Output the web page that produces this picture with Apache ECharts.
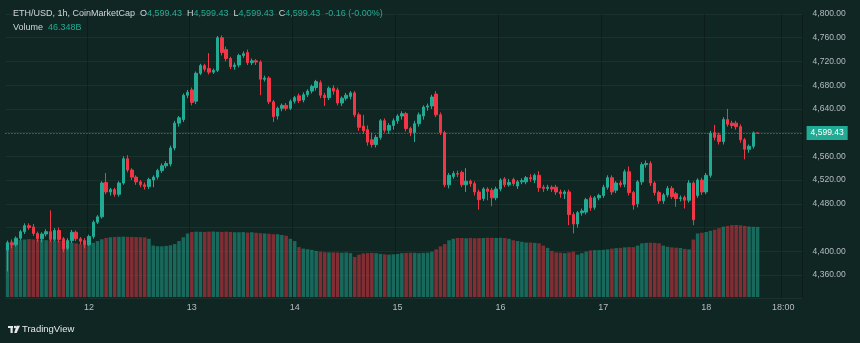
<!DOCTYPE html>
<html>
<head>
<meta charset="utf-8">
<script src="https://cdn.jsdelivr.net/npm/echarts@6/dist/echarts.min.js"></script>
<style>
  html, body { margin: 0; padding: 0; background: #0f2623; }
  #chart { width: 860px; height: 343px; }
</style>
</head>
<body>
<div id="chart"></div>
<script>
// ETH/USD hourly candles (CoinMarketCap), 11th 05:00 → 18th 12:00
const startDay = 11;
const startHour = 5;
const totalSlots = 186; // hourly slots on the time axis, incl. empty space on the right

const opens = [
  4402,4414,4411,4422,4433,4443,4441,4430,4421,4429,4433,4420,4435,4421,4405,4418,4432,4421,4418,4411,
  4425,4449,4458,4516,4500,4504,4496,4515,4556,4537,4525,4517,4512,4509,4520,4525,4536,4544,4547,4574,
  4616,4622,4663,4672,4653,4700,4713,4708,4702,4705,4760,4740,4725,4711,4714,4730,4735,4718,4721,4719,
  4690,4692,4652,4628,4641,4646,4641,4653,4662,4655,4664,4670,4676,4684,4663,4659,4675,4672,4650,4658,
  4661,4667,4630,4611,4605,4588,4580,4592,4620,4604,4612,4620,4628,4632,4607,4600,4615,4628,4643,4645,
  4665,4630,4600,4512,4526,4531,4533,4512,4518,4514,4500,4489,4505,4503,4490,4505,4522,4512,4521,4510,
  4517,4517,4524,4520,4528,4508,4506,4508,4508,4500,4497,4500,4462,4446,4465,4466,4490,4474,4490,4494,
  4508,4524,4503,4515,4513,4534,4499,4480,4517,4546,4548,4515,4499,4485,4495,4506,4497,4489,4491,4486,
  4515,4494,4520,4500,4528,4600,4596,4585,4622,4616,4616,4610,4588,4572,4577,4599.43
];
const closes = [
  4414,4411,4422,4433,4443,4440,4430,4421,4429,4433,4420,4435,4420,4404,4418,4432,4421,4417,4411,4425,
  4449,4458,4515,4500,4504,4496,4515,4556,4537,4525,4517,4512,4509,4521,4525,4536,4544,4548,4574,4616,
  4625,4663,4668,4651,4700,4713,4707,4702,4705,4760,4735,4725,4711,4714,4730,4733,4718,4721,4719,4690,
  4692,4652,4627,4641,4646,4641,4653,4659,4654,4664,4670,4678,4686,4663,4659,4675,4670,4650,4658,4663,
  4667,4630,4609,4603,4584,4580,4592,4620,4604,4612,4620,4628,4632,4607,4600,4615,4630,4643,4645,4660,
  4630,4600,4512,4528,4531,4530,4512,4518,4514,4500,4487,4505,4501,4490,4505,4520,4512,4516,4514,4517,
  4519,4524,4522,4528,4507,4506,4508,4505,4500,4497,4500,4462,4446,4465,4468,4487,4473,4490,4494,4508,
  4524,4500,4515,4512,4534,4499,4478,4517,4546,4548,4515,4499,4485,4495,4506,4492,4489,4490,4486,4515,
  4453,4520,4500,4528,4599,4592,4585,4622,4614,4612,4610,4588,4572,4577,4599.59,4599.43
];
const lows = [
  4366,4405,4408,4418,4429,4436,4426,4416,4415,4425,4416,4417,4415,4398,4402,4414,4417,4412,4405,4409,
  4421,4446,4455,4496,4494,4492,4492,4512,4533,4520,4512,4508,4504,4505,4508,4521,4532,4540,4543,4570,
  4610,4618,4658,4646,4648,4697,4703,4698,4699,4702,4730,4720,4707,4706,4710,4726,4714,4714,4714,4663,
  4686,4648,4618,4622,4636,4637,4638,4649,4650,4651,4660,4666,4671,4658,4645,4655,4664,4646,4645,4654,
  4656,4626,4603,4598,4578,4575,4575,4588,4600,4598,4605,4615,4622,4602,4594,4584,4610,4622,4637,4640,
  4626,4596,4508,4506,4522,4525,4508,4500,4509,4494,4470,4485,4486,4476,4486,4501,4508,4509,4510,4505,
  4513,4513,4517,4515,4500,4500,4502,4500,4495,4490,4488,4444,4430,4440,4460,4462,4468,4470,4486,4490,
  4504,4495,4498,4508,4508,4494,4470,4474,4512,4541,4510,4494,4480,4480,4491,4488,4475,4484,4472,4482,
  4444,4490,4495,4496,4524,4587,4580,4580,4610,4607,4605,4583,4555,4566,4573,4599.43
];
const highs = [
  4418,4420,4425,4436,4447,4447,4446,4433,4432,4437,4469,4439,4440,4424,4422,4436,4435,4424,4422,4428,
  4452,4461,4518,4532,4507,4507,4518,4560,4562,4540,4528,4520,4516,4524,4528,4539,4548,4552,4578,4620,
  4628,4666,4672,4676,4703,4716,4716,4734,4708,4763,4764,4745,4728,4718,4733,4737,4740,4725,4724,4722,
  4696,4695,4655,4644,4649,4650,4656,4662,4666,4668,4673,4681,4689,4688,4667,4678,4680,4676,4661,4667,
  4670,4670,4634,4630,4612,4600,4596,4623,4624,4616,4624,4631,4636,4635,4610,4620,4634,4646,4649,4664,
  4670,4634,4603,4532,4535,4536,4536,4540,4521,4518,4504,4508,4508,4507,4509,4523,4525,4522,4524,4520,
  4523,4527,4530,4531,4535,4512,4512,4511,4512,4504,4503,4504,4466,4468,4472,4490,4494,4493,4497,4512,
  4528,4528,4518,4519,4538,4543,4502,4520,4550,4553,4552,4518,4502,4498,4510,4510,4500,4494,4494,4520,
  4518,4523,4524,4532,4603,4613,4600,4626,4640,4620,4620,4614,4591,4580,4602,4599.43
];
// 24h volume, billions USD
const volumes = [
  36.4,36.8,37.2,37.6,38.0,38.3,38.1,37.9,37.8,37.6,37.5,37.4,37.2,37.0,36.6,36.0,35.5,35.0,34.5,34.8,
  35.8,37.0,38.2,39.0,39.5,39.7,39.8,39.9,39.8,39.7,39.6,39.5,39.4,38.5,34.0,33.6,33.5,33.8,34.2,35.0,
  37.0,39.5,42.0,43.0,43.2,43.1,43.0,43.2,43.3,43.1,43.0,43.2,43.0,42.8,42.8,42.9,42.6,42.8,42.5,42.2,
  42.0,41.8,41.5,41.5,41.0,40.5,38.5,37.0,33.0,32.0,31.6,31.2,30.5,30.0,29.6,29.5,29.5,29.4,29.3,29.5,
  29.0,26.5,28.0,28.8,29.0,29.2,29.0,28.5,28.2,28.0,28.2,28.5,29.0,29.2,29.3,29.2,29.0,29.2,29.3,30.0,
  31.5,33.5,35.0,37.5,38.5,39.0,39.0,38.8,39.0,38.8,38.9,39.0,39.2,39.1,39.0,39.2,39.0,38.5,37.5,37.0,
  36.5,36.0,36.0,35.8,35.5,34.0,32.5,30.5,29.5,29.3,29.0,29.5,30.0,28.0,29.0,30.0,30.8,31.0,31.0,31.2,
  31.5,32.0,32.3,32.5,32.8,33.0,33.0,34.0,35.5,35.8,35.9,35.8,35.5,34.0,33.2,32.8,32.6,32.4,31.8,31.5,
  38.0,42.0,42.5,43.0,43.8,44.5,45.5,46.5,47.0,47.5,47.6,47.4,47.0,46.6,46.4,46.348
];

// visible axis ticks
const timeTicks = ['12 00:00','13 00:00','14 00:00','15 00:00','16 00:00','17 00:00','18 00:00','18 18:00'];
const timeTickLabels = ['12','13','14','15','16','17','18','18:00'];
const priceTicks = [4360,4400,4480,4520,4560,4640,4680,4720,4760,4800];

const upColor = '#22ab94';
const downColor = '#f23645';
const upVol = 'rgba(34,171,148,0.5)';
const downVol = 'rgba(242,54,69,0.5)';

const categories = [];
for (let s = 0; s < totalSlots; s++) {
  const h = startHour + s;
  const day = startDay + Math.floor(h / 24);
  const hr = h % 24;
  categories.push(day + ' ' + String(hr).padStart(2, '0') + ':00');
}

const fmtPrice = v => v.toLocaleString('en-US', { minimumFractionDigits: 2, maximumFractionDigits: 2 });

const candleData = opens.map((o, i) => [o, closes[i], lows[i], highs[i]]);
const volData = volumes.map((v, i) => ({
  value: v,
  itemStyle: { color: closes[i] >= opens[i] ? upVol : downVol }
}));

const n = opens.length;
const lastO = opens[n - 1], lastH = highs[n - 1], lastL = lows[n - 1], lastC = closes[n - 1];
const chg = lastC - closes[n - 2];
const chgPct = chg / closes[n - 2] * 100;
const lastVol = volumes[n - 1];
const volText = lastVol.toFixed(3) + 'B';

const font = 'Liberation Sans, Arial, sans-serif';
const gridLeft = 5.4, gridRight = 57.4;

const chart = echarts.init(document.getElementById('chart'), null, { renderer: 'canvas' });
chart.setOption({
  animation: false,
  backgroundColor: '#0f2623',
  textStyle: { fontFamily: font },
  grid: [
    { left: gridLeft, right: gridRight, top: 14, bottom: 44.3 },
    { left: gridLeft, right: gridRight, top: 176, bottom: 46 }
  ],
  xAxis: [
    {
      type: 'category', gridIndex: 0, data: categories, boundaryGap: true,
      axisLine: { show: false }, axisTick: { show: false }, axisLabel: { show: false },
      splitLine: {
        show: true,
        interval: (i, v) => timeTicks.includes(v),
        lineStyle: { color: 'rgba(0,0,0,0.25)', width: 1 }
      }
    },
    {
      type: 'category', gridIndex: 1, data: categories, boundaryGap: true,
      axisLine: { show: false }, axisTick: { show: false },
      axisLabel: {
        interval: (i, v) => timeTicks.includes(v),
        formatter: v => timeTickLabels[timeTicks.indexOf(v)] || '',
        color: '#b7bcc4', fontSize: 9, margin: 6, fontFamily: font
      },
      splitLine: { show: false }
    }
  ],
  yAxis: [
    {
      type: 'value', gridIndex: 0, position: 'right', min: 4320, max: 4800, interval: 40,
      axisLine: { show: false }, axisTick: { show: false },
      axisLabel: {
        formatter: v => priceTicks.includes(v) ? fmtPrice(v) : '',
        color: '#b7bcc4', fontSize: 8.5, margin: 10, fontFamily: font
      },
      splitLine: { show: true, lineStyle: { color: 'rgba(255,255,255,0.05)', width: 1 } }
    },
    {
      type: 'value', gridIndex: 1, min: 0, max: 80, show: false
    }
  ],
  series: [
    {
      type: 'bar', xAxisIndex: 1, yAxisIndex: 1, data: volData,
      barWidth: '82%', z: 1, silent: true,
      markLine: {
        silent: true, symbol: ['none', 'none'],
        data: [{ yAxis: lastVol }],
        lineStyle: { opacity: 0 },
        label: {
          position: 'end', distance: 4, formatter: lastVol.toFixed(3) + ' B',
          color: '#ffffff', backgroundColor: '#26a69a', fontSize: 8.5,
          padding: [3, 4, 2, 4], fontFamily: font
        }
      }
    },
    {
      type: 'candlestick', xAxisIndex: 0, yAxisIndex: 0, data: candleData,
      barWidth: '68%', z: 3,
      itemStyle: {
        color: upColor, color0: downColor,
        borderColor: upColor, borderColor0: downColor, borderWidth: 1
      },
      markLine: {
        silent: true, symbol: ['none', 'none'],
        data: [{ yAxis: lastC }],
        lineStyle: { color: upColor, type: [1, 2], width: 1 },
        label: {
          position: 'end', distance: 4, formatter: fmtPrice(lastC),
          color: '#ffffff', backgroundColor: upColor, fontSize: 8.5,
          padding: [3, 4, 2, 4], fontFamily: font
        }
      }
    }
  ],
  graphic: [
    {
      type: 'text', left: 13, top: 9,
      style: {
        text: '{w|ETH/USD, 1h, CoinMarketCap  O}{g|' + fmtPrice(lastO) + '}{w|  H}{g|' + fmtPrice(lastH) +
              '}{w|  L}{g|' + fmtPrice(lastL) + '}{w|  C}{g|' + fmtPrice(lastC) + '}{g|  ' +
              (chg >= 0 ? '+' : '') + chg.toFixed(2) + ' (' + (chgPct >= 0 ? '+' : '-') + Math.abs(chgPct).toFixed(2) + '%)}',
        rich: {
          w: { fill: '#d1d4dc', fontSize: 9, fontFamily: font },
          g: { fill: upColor, fontSize: 9, fontFamily: font }
        }
      }
    },
    {
      type: 'text', left: 13, top: 23,
      style: {
        text: '{w|Volume  }{g|' + volText + '}',
        rich: {
          w: { fill: '#d1d4dc', fontSize: 9, fontFamily: font },
          g: { fill: upColor, fontSize: 9, fontFamily: font }
        }
      }
    },
    // TradingView mark
    { type: 'rect', shape: { x: 8, y: 326, width: 5, height: 2 }, style: { fill: '#e6e8ec' } },
    { type: 'rect', shape: { x: 10.5, y: 326, width: 2.2, height: 7 }, style: { fill: '#e6e8ec' } },
    { type: 'circle', shape: { cx: 15, cy: 327, r: 1.2 }, style: { fill: '#e6e8ec' } },
    { type: 'polygon', shape: { points: [[16.5, 325.8], [20, 325.8], [16.6, 333], [14.2, 333]] }, style: { fill: '#e6e8ec' } },
    {
      type: 'text', left: 22, top: 324,
      style: { text: 'TradingView', fill: '#e6e8ec', fontSize: 9.5, fontFamily: font }
    }
  ]
});
</script>
</body>
</html>
